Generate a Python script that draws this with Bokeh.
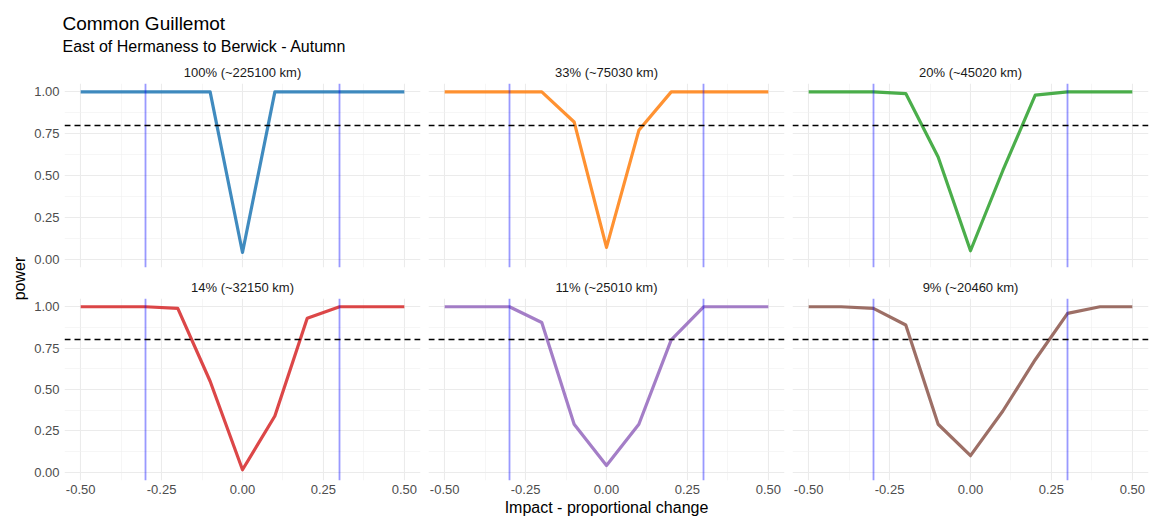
import math
from bokeh.plotting import figure
from bokeh.layouts import column, row
from bokeh.models import (Range1d, LinearAxis, FixedTicker, NumeralTickFormatter,
                          Grid, Label, Title)
from bokeh.embed import file_html
from bokeh.resources import INLINE

# ---------------- data ----------------
impact = [-0.5, -0.4, -0.3, -0.2, -0.1, 0.0, 0.1, 0.2, 0.3, 0.4, 0.5]
panel_titles = ["100% (~225100 km)", "33% (~75030 km)", "20% (~45020 km)",
                "14% (~32150 km)", "11% (~25010 km)", "9% (~20460 km)"]
power_100 = [1, 1, 1, 1, 1, 0.04, 1, 1, 1, 1, 1]
power_33 = [1, 1, 1, 1, 0.82, 0.07, 0.77, 1, 1, 1, 1]
power_20 = [1, 1, 1, 0.99, 0.61, 0.05, 0.53, 0.98, 1, 1, 1]
power_14 = [1, 1, 1, 0.99, 0.55, 0.015, 0.34, 0.93, 1, 1, 1]
power_11 = [1, 1, 1, 0.905, 0.29, 0.04, 0.29, 0.80, 1, 1, 1]
power_9 = [1, 1, 0.99, 0.89, 0.29, 0.10, 0.37, 0.68, 0.96, 1, 1]
series = [power_100, power_33, power_20, power_14, power_11, power_9]
colors = ["#1F77B4", "#FF7F0E", "#2CA02C", "#D62728", "#9467BD", "#8C564B"]
x_ticks = [-0.5, -0.25, 0.0, 0.25, 0.5]
x_minor = [-0.375, -0.125, 0.125, 0.375]
y_ticks = [0.0, 0.25, 0.5, 0.75, 1.0]
y_minor = [0.125, 0.375, 0.625, 0.875]
threshold = [0.8]
ref_lines = [-0.3, 0.3]

FONT = "Liberation Sans"
FRAME_W = 356
FRAME_H = 184


def strip_grids(p):
    p.center = [r for r in p.center if not isinstance(r, Grid)]


def style_axis(ax, standoff):
    ax.axis_line_color = None
    ax.major_tick_line_color = None
    ax.minor_tick_line_color = None
    ax.major_tick_out = 0
    ax.major_tick_in = 0
    ax.minor_tick_out = 0
    ax.minor_tick_in = 0
    ax.major_label_standoff = standoff
    ax.major_label_text_font_size = "13px"
    ax.major_label_text_color = "#4D4D4D"
    ax.major_label_text_font = FONT


def make_panel(i):
    col = i % 3
    top = i < 3
    left = 34 if col == 0 else 4
    right = 2 if col == 2 else 4
    tb = 25 if top else 23
    bb = 7 if top else 37
    p = figure(width=left + FRAME_W + right, height=tb + FRAME_H + bb,
               x_range=Range1d(-0.55, 0.55), y_range=Range1d(-0.05, 1.05),
               toolbar_location=None, output_backend="svg",
               x_axis_location=None, y_axis_location=None,
               min_border_left=left, min_border_right=right,
               min_border_top=tb, min_border_bottom=bb)
    strip_grids(p)
    p.outline_line_color = None
    p.background_fill_color = "white"
    p.border_fill_color = "white"
    p.title = Title(text=panel_titles[i], align="center", text_font_size="13px",
                    text_font_style="normal", text_color="#1A1A1A",
                    text_font=FONT, standoff=7)

    xt = FixedTicker(ticks=x_ticks, minor_ticks=x_minor)
    yt = FixedTicker(ticks=y_ticks, minor_ticks=y_minor)
    for dim, t in ((0, xt), (1, yt)):
        g = Grid(dimension=dim, ticker=t, grid_line_color="#EBEBEB",
                 grid_line_width=1.1, minor_grid_line_color="#F0F0F0",
                 minor_grid_line_width=0.6)
        p.add_layout(g)

    if col == 0:
        ya = LinearAxis(ticker=yt, formatter=NumeralTickFormatter(format="0.00"))
        style_axis(ya, 5)
        p.add_layout(ya, "left")
    if not top:
        xa = LinearAxis(ticker=xt, formatter=NumeralTickFormatter(format="0.00"))
        style_axis(xa, 4)
        if col == 1:
            xa.axis_label = "Impact - proportional change"
            xa.axis_label_standoff = 2
            xa.axis_label_text_font_size = "16px"
            xa.axis_label_text_font_style = "normal"
            xa.axis_label_text_color = "#000000"
            xa.axis_label_text_font = FONT
        p.add_layout(xa, "below")

    p.line(impact, series[i], line_width=3.2, line_color=colors[i], line_alpha=0.85,
           line_join="round")
    p.vspan(x=ref_lines, line_color="#0000FF", line_alpha=0.4, line_width=1.8)
    p.hspan(y=threshold, line_color="#000000", line_dash="6 4", line_width=1.3)
    return p


panels = [make_panel(i) for i in range(6)]

# header with title and subtitle
header = figure(width=1150, height=58, x_range=Range1d(0, 1), y_range=Range1d(0, 1),
                toolbar_location=None, output_backend="svg",
                x_axis_location=None, y_axis_location=None, min_border=0)
strip_grids(header)
header.outline_line_color = None
header.add_layout(Label(x=62, y=34.7, x_units="screen", y_units="screen",
                        text="Common Guillemot", text_font=FONT,
                        text_font_size="19px", text_color="#000000",
                        text_baseline="alphabetic", text_align="left"))
header.add_layout(Label(x=62, y=12.3, x_units="screen", y_units="screen",
                        text="East of Hermaness to Berwick - Autumn", text_font=FONT,
                        text_font_size="16px", text_color="#000000",
                        text_baseline="alphabetic", text_align="left"))

# y axis title
ylab = figure(width=30, height=460, x_range=Range1d(0, 1), y_range=Range1d(0, 1),
              toolbar_location=None, output_backend="svg",
              x_axis_location=None, y_axis_location=None, min_border=0)
strip_grids(ylab)
ylab.outline_line_color = None
ylab.add_layout(Label(x=19, y=240, x_units="screen", y_units="screen",
                      text="power", angle=math.pi / 2, text_font=FONT,
                      text_font_size="16px", text_color="#000000",
                      text_align="center", text_baseline="middle"))

grid = column(row(panels[0], panels[1], panels[2]),
              row(panels[3], panels[4], panels[5]))
layout = column(header, row(ylab, grid))

open("out.html", "w").write(file_html(layout, INLINE))
